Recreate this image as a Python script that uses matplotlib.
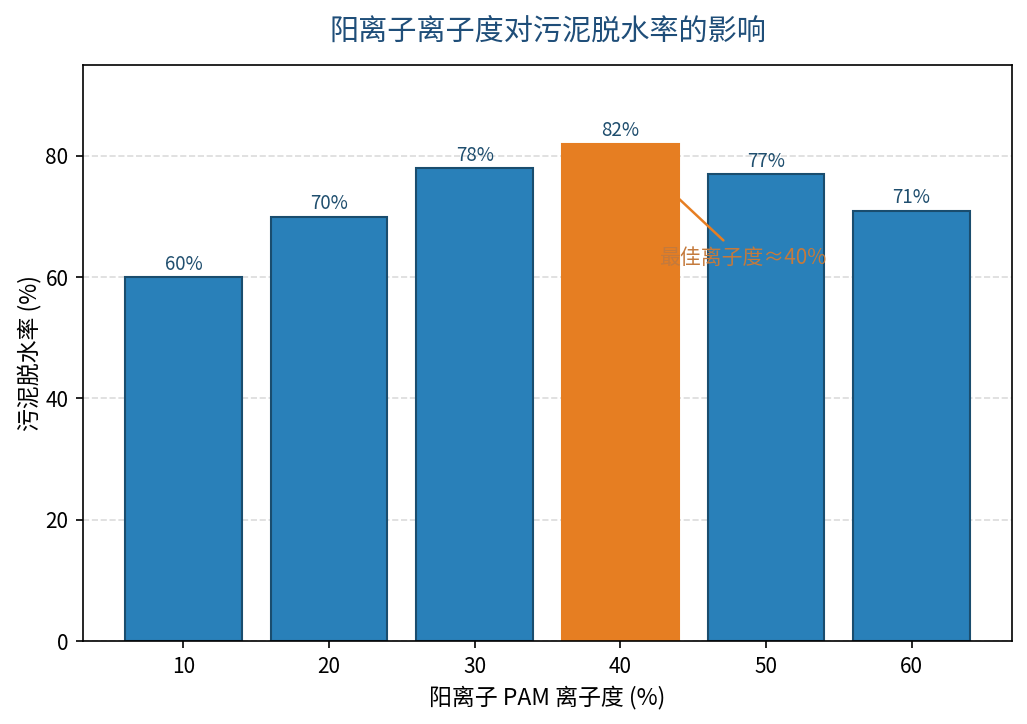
import matplotlib
matplotlib.use("Agg")
import matplotlib.pyplot as plt

plt.rcParams['font.family'] = ['Noto Sans CJK SC', 'DejaVu Sans']
plt.rcParams['axes.unicode_minus'] = False

# 数据
ionic_degree = [10, 20, 30, 40, 50, 60]
dewater_rate = [60, 70, 78, 82, 77, 71]
best_degree = 40

blue = '#2980b9'
orange = '#e67e22'
edge = '#1a4d6e'
text_color = '#1f4e6e'

fig = plt.figure(figsize=(1027 / 150, 724 / 150), dpi=150)
ax = fig.add_axes([0.0808, 0.1146, 0.9046, 0.7956])

colors = [orange if d == best_degree else blue for d in ionic_degree]
edges = [orange if d == best_degree else edge for d in ionic_degree]
bars = ax.bar(ionic_degree, dewater_rate, width=8, color=colors,
              edgecolor=edges, linewidth=1.0, zorder=2)

# 柱顶标签
for d, v in zip(ionic_degree, dewater_rate):
    ax.text(d, v + 0.4, f"{v}%", ha='center', va='bottom',
            fontsize=9, color=text_color, zorder=4)

ax.set_ylim(0, 95)
ax.set_xticks(ionic_degree)
ax.tick_params(labelsize=10)
ax.yaxis.grid(True, linestyle='--', color='#cccccc', alpha=0.7, zorder=0)
ax.set_axisbelow(True)

ax.set_xlabel("阳离子 PAM 离子度 (%)", fontsize=11)
ax.set_ylabel("污泥脱水率 (%)", fontsize=11, labelpad=2)
ax.set_title("阳离子离子度对污泥脱水率的影响", fontsize=14,
             color='#1f4e79', pad=12)

ax.annotate("最佳离子度≈40%", xy=(best_degree, 82), xytext=(48.4, 63.1),
            ha='center', va='center', fontsize=10, color='#c47a3c',
            arrowprops=dict(arrowstyle='-', color=orange, lw=1.2),
            zorder=5)

fig.savefig("out.png", dpi=150)
